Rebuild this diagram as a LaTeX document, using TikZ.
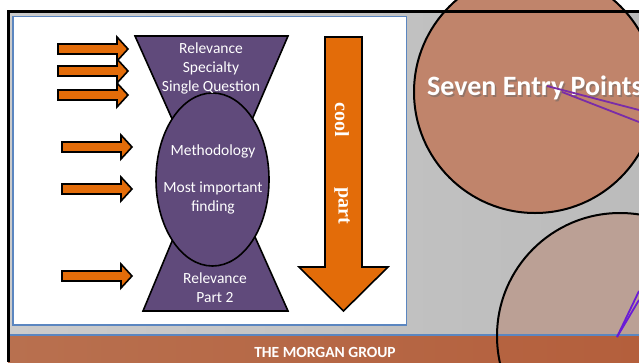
\documentclass[tikz,border=0pt]{standalone}
\usepackage{fontspec}
\setmainfont{Carlito}
\newfontfamily\serifbold{Liberation Serif}
\definecolor{slidepurple}{HTML}{604A7B}
\definecolor{slideorange}{HTML}{E36C09}
\definecolor{panelblue}{HTML}{5B86C0}
\definecolor{bandleft}{HTML}{B8704F}
\definecolor{bandright}{HTML}{B45F3C}
\definecolor{bglight}{HTML}{CBCBCB}
\definecolor{bgdark}{HTML}{BBBBBB}
\definecolor{circlerust}{HTML}{C0846B}
\definecolor{circlerose}{HTML}{BBA095}
\definecolor{linepurple}{HTML}{7A2CA8}
\definecolor{lineviolet}{HTML}{6A1BD6}
\tikzset{
	inarrow/.style={fill=slideorange, draw=black, line width=1.6, line join=miter},
	hourglass/.style={fill=slidepurple, draw=black, line width=1.6},
	whitetext/.style={text=white, align=center, inner sep=0, font=\fontsize{15.5}{19}\selectfont},
	cooltext/.style={text=white, inner sep=0, rotate=-90, font=\serifbold\bfseries\fontsize{20}{24}\selectfont},
}
\begin{document}
\begin{tikzpicture}[x=1pt, y=-1pt]
		\useasboundingbox (0,0) rectangle (639,362);
		\clip (0,0) rectangle (639,362);
		% slide background
		\fill[white] (0,0) rectangle (639,362);
		\shade[left color=bglight, right color=bgdark] (8,11) rectangle (639,362);
		\fill[circlerust] (535,92) circle[radius=121];
		\fill[circlerose] (620,336) circle[radius=123];
		\shade[left color=bandleft, right color=bandright] (8,335) rectangle (639,362);
		\draw[panelblue, line width=1.5] (8,335) -- (639,335);
		\draw[line width=2] (535,92) circle[radius=121];
		\draw[line width=2] (620,336) circle[radius=123];
		\draw[line width=3] (8.5,362) -- (8.5,11.5) -- (639,11.5);
		% white panel
		\draw[panelblue, line width=1.5, fill=white] (13,16.5) rectangle (406.5,325);
		\foreach \x/\y in {58/49, 58/71, 58/95, 62/147, 62/189, 62/276}
			\draw[inarrow] (\x,\y-5) -- ++(59,0) -- ++(0,-7) -- ++(11,12) -- ++(-11,12) -- ++(0,-7) -- ++(-59,0) -- cycle;
		\draw[hourglass] (135,36) -- (288,36) -- (239,150) -- (186,150) -- cycle;
		\draw[hourglass] (143,311) -- (288,311) -- (243,210) -- (185,210) -- cycle;
		\draw[hourglass] (212.5,179.5) ellipse[x radius=56.5, y radius=86.5];
		\draw[inarrow] (325,37) -- (362,37) -- (362,267) -- (388,267) -- (343.5,311) -- (299,267) -- (325,267) -- cycle;
		\node[whitetext] (topnames) at (211,68) {Relevance\\Specialty\\Single Question};
		\node[whitetext] (method) at (213,151) {Methodology};
		\node[whitetext] (finding) at (213,197.5) {Most important\\finding};
		\node[whitetext] (bottomnames) at (215,288) {Relevance\\Part 2};
		\node[cooltext] (cool) at (342,120) {cool};
		\node[cooltext] (part) at (342,206) {part};
		% title and footer
		\node[anchor=west, inner sep=0, text=black!60, opacity=0.5, font=\bfseries\fontsize{28}{32}\selectfont] (entryshadow) at (428.5,89.5) {Seven Entry Points};
		\node[anchor=west, inner sep=0, text=white, font=\bfseries\fontsize{28}{32}\selectfont] (entry) at (427,88) {Seven Entry Points};
		\node[text=white, inner sep=0, font=\bfseries\fontsize{15.5}{18}\selectfont] (footer) at (325,352) {THE MORGAN GROUP};
		\coordinate (rayA) at (547,86);
		\coordinate (rayAend) at (639,110);
		\coordinate (rayB) at (562,92);
		\coordinate (rayBend) at (639,122);
		\coordinate (rayC) at (617,337);
		\coordinate (rayCend) at (639,300);
		\coordinate (rayDend) at (639,291);
		\draw[linepurple, line width=1.8] (rayA) -- (rayAend);
		\draw[linepurple, line width=1.8] (rayB) -- (rayBend);
		\draw[lineviolet, line width=1.8] (rayC) -- (rayCend);
		\draw[lineviolet, line width=1.8] (rayC) -- (rayDend);
	\end{tikzpicture}
\end{document}
